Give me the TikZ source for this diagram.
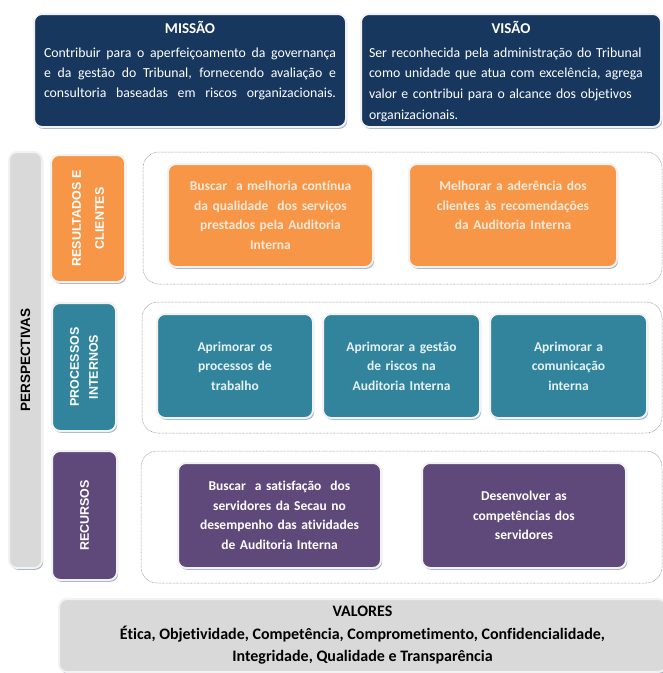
\documentclass[tikz,border=0pt]{standalone}
\usepackage{fontspec}
\setmainfont{Carlito}[Ligatures=NoCommon]
\newfontfamily\capsfont{Liberation Sans}
\usetikzlibrary{positioning,shadows}

\definecolor{navy}{HTML}{17375E}
\definecolor{resorange}{HTML}{F79646}
\definecolor{procteal}{HTML}{31849B}
\definecolor{recpurple}{HTML}{5F497A}
\definecolor{barlight}{HTML}{D9D9D9}
\definecolor{shadowblue}{HTML}{8EA0B8}
\definecolor{creamtext}{HTML}{FDE9D9}
\definecolor{tealtext}{HTML}{E4F1F5}

\newcommand{\misline}[1]{\makebox[292pt][s]{#1}}
\newcommand{\visline}[1]{\makebox[284pt][s]{#1}}

\tikzset{
  card/.style={rounded corners=8pt, draw=gray!10, line width=2pt, inner sep=0pt,
    drop shadow={shadow xshift=1.2pt, shadow yshift=-1.8pt, fill=shadowblue, opacity=0.8}},
  headbox/.style={card, fill=navy, minimum height=113pt},
  headtext/.style={text=white, inner sep=0pt, align=left},
  goalbox/.style={card, align=center, text width=#1,
    font=\fontsize{13.5}{19.5}\selectfont\bfseries},
  sidebox/.style={card, minimum width=#1},
  sidetext/.style={rotate=90, align=center, text=white,
    font=\capsfont\fontsize{12.5}{14}\selectfont\bfseries},
  rowframe/.style={draw=gray!90, dash pattern=on 0.7pt off 0.7pt, rounded corners=16pt, line width=0.5pt}
}

\begin{document}
\begin{tikzpicture}[x=1pt,y=-1pt]
\useasboundingbox[fill=white] (0,0) rectangle (663,673);

\node[headbox, minimum width=312pt] (mis) at (190,70.5) {};
\node[text=white, font=\fontsize{15}{20}\selectfont\bfseries, below=5pt of mis.north] (mistitle) {MISSÃO};
\node[headtext, font=\fontsize{13.8}{20}\selectfont, below=10pt of mistitle] (mistext)
  {\misline{Contribuir para o aperfeiçoamento da governança}\\
   \misline{e da gestão do Tribunal, fornecendo avaliação e}\\
   \misline{consultoria baseadas em riscos organizacionais.}};

\node[headbox, minimum width=300pt] (vis) at (511,70.5) {};
\node[text=white, font=\fontsize{15}{20}\selectfont\bfseries, below=5pt of vis.north] (vistitle) {VISÃO};
\node[headtext, font=\fontsize{13.8}{20.8}\selectfont, below=10pt of vistitle, text width=284pt] (vistext)
  {\visline{Ser reconhecida pela administração do Tribunal}\\
   \visline{como unidade que atua com excelência, agrega}\\
   \visline{valor e contribui para o alcance dos objetivos}\\
   organizacionais.};

\node[sidebox=33pt, fill=barlight, minimum height=416pt] (bar) at (25.5,360) {};
\node[sidetext, text=black, font=\capsfont\fontsize{13.5}{14}\selectfont\bfseries] (persp) at (bar.center) {PERSPECTIVAS};

\node[sidebox=74pt, fill=resorange, minimum height=127pt] (lres) at (88,218.5) {};
\node[sidetext, font=\capsfont\fontsize{12.5}{23}\selectfont\bfseries] at (lres.center) {RESULTADOS E\\CLIENTES};
\node[sidebox=64pt, fill=procteal, minimum height=128pt] (lproc) at (84,367) {};
\node[sidetext, font=\capsfont\fontsize{12.5}{19}\selectfont\bfseries] at (lproc.center) {PROCESSOS\\INTERNOS};
\node[sidebox=65pt, fill=recpurple, minimum height=129pt] (lrec) at (84.5,515.5) {};
\node[sidetext] at (lrec.center) {RECURSOS};

\node[rowframe, minimum width=519pt, minimum height=132pt] (row1) at (402.5,218) {};
\node[rowframe, minimum width=520pt, minimum height=131pt] (row2) at (402,367.5) {};
\node[rowframe, minimum width=521pt, minimum height=132pt] (row3) at (401.5,517) {};

\node[goalbox=195pt, fill=resorange, text=creamtext, minimum width=205pt, minimum height=103pt] (res1) at (270.5,215.5)
  {Buscar \ a melhoria contínua\\da qualidade \ dos serviços\\prestados pela Auditoria\\Interna};
\node[goalbox=195pt, fill=resorange, text=creamtext, minimum width=208pt, minimum height=103pt] (res2) at (513,215.5)
  {Melhorar a aderência dos\\clientes às recomendações\\da Auditoria Interna\\\mbox{}};

\node[goalbox=145pt, fill=procteal, text=tealtext, minimum width=156pt, minimum height=104pt] (proc1) at (235,366)
  {Aprimorar os\\processos de\\trabalho};
\node[goalbox=145pt, fill=procteal, text=tealtext, minimum width=157pt, minimum height=104pt] (proc2) at (401.5,366)
  {Aprimorar a gestão\\de riscos na\\Auditoria Interna};
\node[goalbox=145pt, fill=procteal, text=tealtext, minimum width=157pt, minimum height=104pt] (proc3) at (568.5,366)
  {Aprimorar a\\comunicação\\interna};

\node[goalbox=193pt, fill=recpurple, text=white, minimum width=203pt, minimum height=105pt] (rec1) at (279.5,515.5)
  {Buscar \ a satisfação \ dos\\servidores da Secau no\\desempenho das atividades\\de Auditoria Interna};
\node[goalbox=193pt, fill=recpurple, text=white, minimum width=204pt, minimum height=105pt] (rec2) at (524,515.5)
  {Desenvolver as\\competências dos\\servidores};

\node[card, fill=barlight, minimum width=607pt, minimum height=73pt, align=center,
  font=\fontsize{16}{22.5}\selectfont\bfseries] (val) at (362.5,635.5)
  {VALORES\\Ética, Objetividade, Competência, Comprometimento, Confidencialidade,\\Integridade, Qualidade e Transparência};
\end{tikzpicture}
\end{document}
